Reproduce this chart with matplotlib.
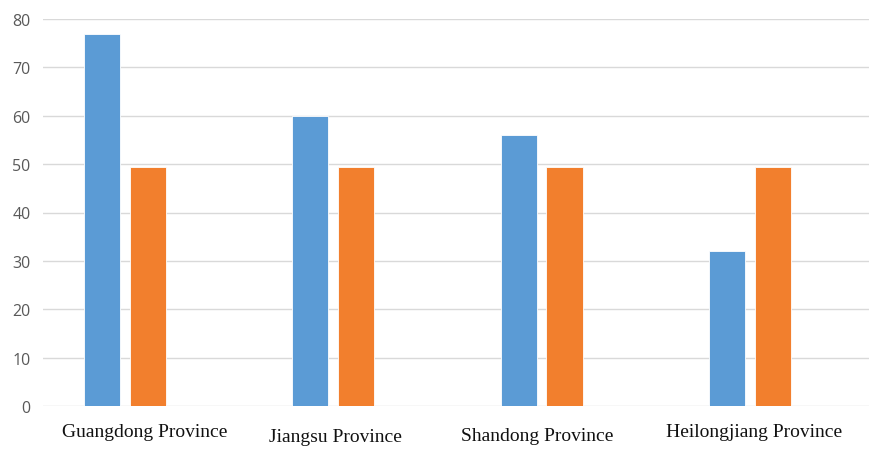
import numpy as np
import matplotlib.pyplot as plt
from matplotlib.transforms import ScaledTranslation

provinces = ['Guangdong Province', 'Jiangsu Province', 'Shandong Province', 'Heilongjiang Province']
series_blue = [77, 60, 56, 32]
series_orange = [49.5, 49.5, 49.5, 49.5]
yticks = [0, 10, 20, 30, 40, 50, 60, 70, 80]

fig = plt.figure(figsize=(8.69, 4.52), dpi=100)
ax = fig.add_axes([43 / 869, 45 / 452, 826 / 869, 387 / 452])

x = np.arange(len(provinces))
w = 0.173
ax.bar(x - 0.110, series_blue, w, color='#5b9bd5', edgecolor='white', linewidth=0.6, zorder=3)
ax.bar(x + 0.110, series_orange, w, color='#f27f2d', edgecolor='white', linewidth=0.6, zorder=3)

ax.set_xlim(-0.394, 3.572)
ax.set_ylim(0, 80)
ax.set_yticks(yticks)
ax.yaxis.grid(True, color='#d9d9d9', linewidth=1.0, zorder=0)
for s in ax.spines.values():
    s.set_visible(False)
ax.tick_params(axis='y', length=0, pad=9, labelsize=11.5, labelcolor='#595959')
for lab in ax.get_yticklabels():
    lab.set_fontfamily('Open Sans')

ax.set_xticks(x)
ax.set_xticklabels(provinces, fontfamily='Liberation Serif', fontsize=14, color='#111111')
ax.tick_params(axis='x', length=0, pad=12)
# labels sit a bit unevenly under the groups
shifts = [(20, 0), (2, -5), (-4, -4), (4, 0)]
for lab, (dx, dy) in zip(ax.get_xticklabels(), shifts):
    lab.set_transform(lab.get_transform() + ScaledTranslation(dx / 100, dy / 100, fig.dpi_scale_trans))

fig.savefig('out.png', dpi=100)
